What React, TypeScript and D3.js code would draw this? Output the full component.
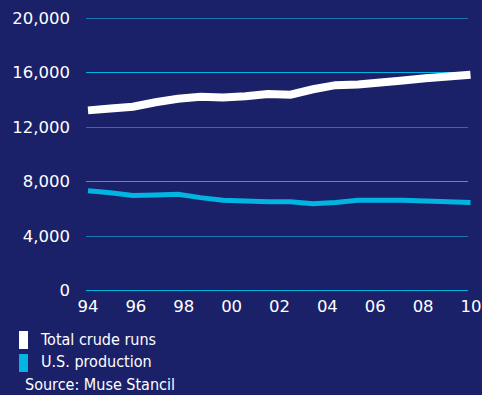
import React from "react";
import * as d3 from "d3";

const years = [1994, 1995, 1996, 1997, 1998, 1999, 2000, 2001, 2002, 2003, 2004, 2005, 2006, 2007, 2008, 2009, 2010, 2011];
const totalCrudeRuns = [13200, 13330, 13470, 13800, 14050, 14200, 14150, 14230, 14400, 14350, 14750, 15050, 15100, 15250, 15400, 15550, 15680, 15820];
const usProduction = [7300, 7150, 6950, 7000, 7050, 6800, 6600, 6550, 6500, 6500, 6350, 6450, 6600, 6600, 6600, 6550, 6500, 6450];
const yTicks = [0, 4000, 8000, 12000, 16000, 20000];
const xTickLabels = ["94", "96", "98", "00", "02", "04", "06", "08", "10"];
const legendLabels = ["Total crude runs", "U.S. production"];
const sourceText = "Source: Muse Stancil";

const W = 482;
const H = 395;
const BG = "#1b2169";
const CYAN = "#00b5e2";

export default function App() {
  const x = d3.scaleLinear().domain([years[0], years[years.length - 1]]).range([88, 470.5]);
  const y = d3.scaleLinear().domain([0, 20000]).range([290.3, 17.7]);
  const xLab = d3.scaleLinear().domain([0, xTickLabels.length - 1]).range([88, 471]);

  const line = d3
    .line<number>()
    .x((_, i) => x(years[i]))
    .y((d) => y(d));

  const axisFont = "'DejaVu Sans', sans-serif";
  const legendFont = "'Liberation Sans Narrow', 'DejaVu Sans Condensed', sans-serif";

  return (
    <div style={{ position: "fixed", left: 0, top: 0, width: W, height: H }}>
      <svg width={W} height={H} style={{ display: "block" }}>
        <rect x={0} y={0} width={W} height={H} fill={BG} />
        {yTicks.map((t, i) => (
          <g key={t}>
            <line
              x1={86}
              x2={468}
              y1={Math.round(y(t)) + 0.5}
              y2={Math.round(y(t)) + 0.5}
              stroke={i % 2 === 0 ? CYAN : "#1a77b5"}
              strokeWidth={1}
            />
            <text
              x={70}
              y={y(t) + 6}
              textAnchor="end"
              fill="#ffffff"
              fontFamily={axisFont}
              fontSize={16.5}
            >
              {d3.format(",")(t)}
            </text>
          </g>
        ))}
        {xTickLabels.map((l, i) => (
          <text
            key={l + i}
            x={xLab(i)}
            y={311.7}
            textAnchor="middle"
            fill="#ffffff"
            fontFamily={axisFont}
            fontSize={16.5}
          >
            {l}
          </text>
        ))}
        <path d={line(usProduction) || ""} fill="none" stroke={CYAN} strokeWidth={5} />
        <path d={line(totalCrudeRuns) || ""} fill="none" stroke="#ffffff" strokeWidth={8} />
        {legendLabels.map((l, i) => (
          <g key={l}>
            <rect x={19} y={331 + i * 23} width={9} height={18} fill={i === 0 ? "#ffffff" : CYAN} />
            <text x={41} y={345 + i * 22} fill="#ffffff" fontFamily={legendFont} fontSize={16}>
              {l}
            </text>
          </g>
        ))}
        <text x={25} y={390} fill="#ffffff" fontFamily={legendFont} fontSize={16}>
          {sourceText}
        </text>
      </svg>
    </div>
  );
}
